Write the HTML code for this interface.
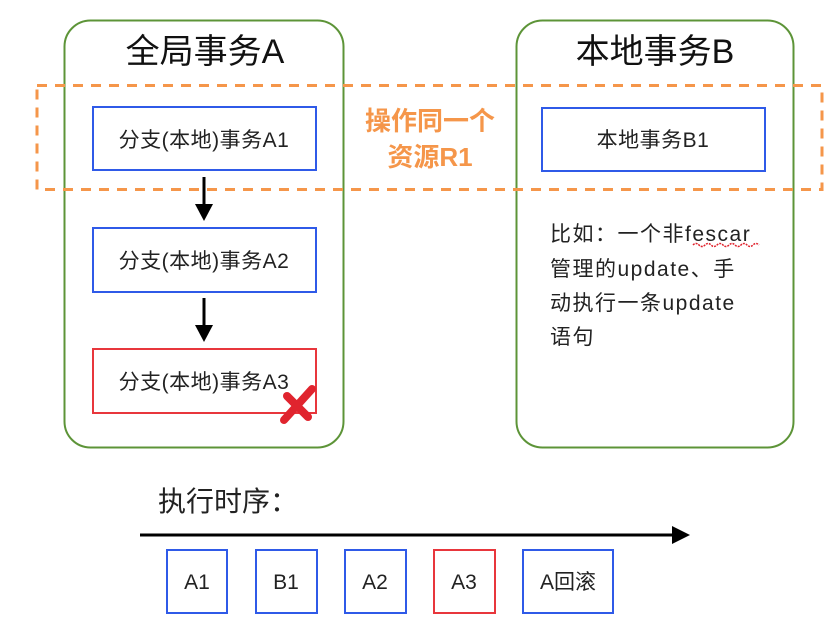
<!DOCTYPE html>
<html><head><meta charset="utf-8"><style>
body{margin:0;background:#fff;}
svg text{font-family:"Liberation Sans","Noto Sans CJK SC",sans-serif;}
</style></head><body>
<svg width="840" height="635" viewBox="0 0 840 635" xmlns="http://www.w3.org/2000/svg">
<rect x="64.5" y="20.5" width="279" height="427" rx="26" fill="none" stroke="#5d9438" stroke-width="2"/>
<rect x="516.5" y="20.5" width="277" height="427" rx="26" fill="none" stroke="#5d9438" stroke-width="2"/>
<text x="205" y="63" font-size="34" text-anchor="middle" fill="#111">全局事务A</text>
<text x="655" y="63" font-size="34" text-anchor="middle" fill="#111">本地事务B</text>
<rect x="37" y="85.5" width="785" height="104" fill="none" stroke="#f5964a" stroke-width="3" stroke-dasharray="10,8"/>
<text x="430" y="130" font-size="26" font-weight="bold" text-anchor="middle" fill="#f5964a">操作同一个</text>
<text x="430" y="166" font-size="26" font-weight="bold" text-anchor="middle" fill="#f5964a">资源R1</text>
<g fill="none" stroke-width="2">
<rect x="93" y="107" width="223" height="63" stroke="#2f5ae8"/>
<rect x="93" y="228" width="223" height="64" stroke="#2f5ae8"/>
<rect x="93" y="349" width="223" height="64" stroke="#e8363c"/>
<rect x="542" y="108" width="223" height="63" stroke="#2f5ae8"/>
</g>
<g font-size="21" text-anchor="middle" fill="#222" letter-spacing="0.5">
<text x="204" y="147">分支(本地)事务A1</text>
<text x="204" y="268">分支(本地)事务A2</text>
<text x="204" y="389">分支(本地)事务A3</text>
<text x="653" y="147">本地事务B1</text>
</g>
<g stroke="#000" stroke-width="3"><line x1="204" y1="177" x2="204" y2="206"/><line x1="204" y1="298" x2="204" y2="327"/></g>
<polygon points="195,204 213,204 204,221" fill="#000"/>
<polygon points="195,325 213,325 204,342" fill="#000"/>
<g stroke="#e0242e" stroke-width="8" stroke-linecap="round"><line x1="284" y1="420" x2="312" y2="389"/><line x1="287" y1="396" x2="308" y2="417"/></g>
<g font-size="21" fill="#222" letter-spacing="1.5">
<text x="550" y="241">比如：一个非fescar</text>
<text x="550" y="276">管理的update、手</text>
<text x="550" y="310">动执行一条update</text>
<text x="550" y="344">语句</text>
</g>
<path d="M693 245 q3 -3 6 0 t6 0 t6 0 t6 0 t6 0 t6 0 t6 0 t6 0 t6 0 t6 0 t6 0" fill="none" stroke="#e0242e" stroke-width="1.5" stroke-dasharray="2,1"/>
<text x="158" y="511" font-size="28" fill="#222">执行时序：</text>
<line x1="140" y1="535" x2="675" y2="535" stroke="#000" stroke-width="3"/>
<polygon points="672,526 690,535 672,544" fill="#000"/>
<g fill="none" stroke-width="2">
<rect x="167" y="550" width="60" height="63" stroke="#2f5ae8"/>
<rect x="256" y="550" width="61" height="63" stroke="#2f5ae8"/>
<rect x="345" y="550" width="61" height="63" stroke="#2f5ae8"/>
<rect x="434" y="550" width="61" height="63" stroke="#e8363c"/>
<rect x="523" y="550" width="90" height="63" stroke="#2f5ae8"/>
</g>
<g font-size="21" text-anchor="middle" fill="#222">
<text x="197" y="589">A1</text><text x="286" y="589">B1</text><text x="375" y="589">A2</text><text x="464" y="589">A3</text><text x="568" y="589">A回滚</text>
</g>
</svg>
</body></html>
